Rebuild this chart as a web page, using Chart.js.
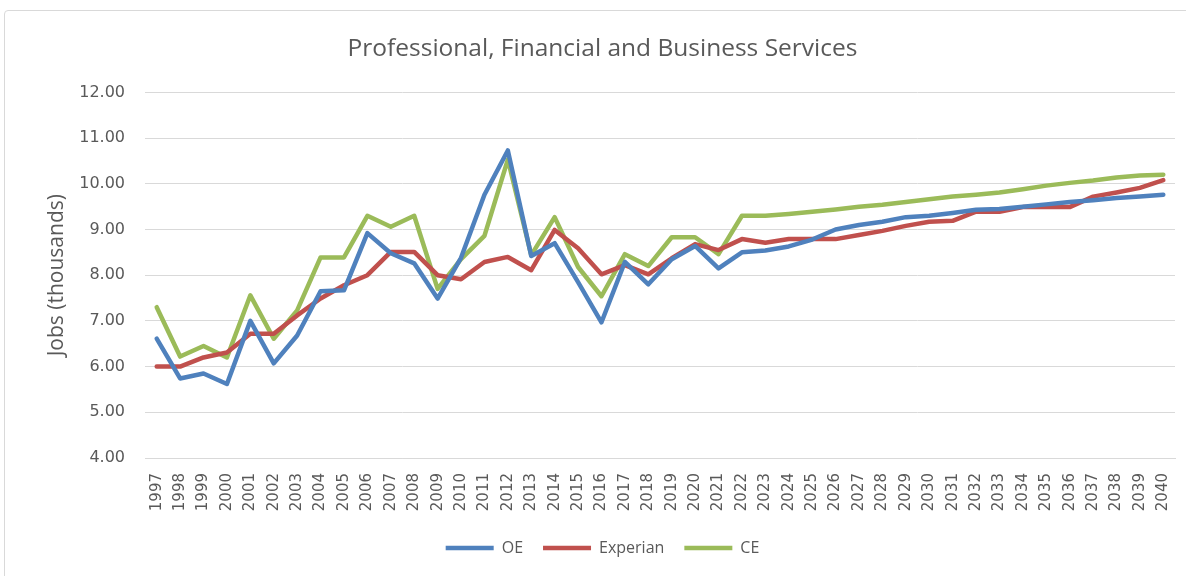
<!DOCTYPE html>
<html>
<head>
<meta charset="utf-8">
<script src="https://cdn.jsdelivr.net/npm/chart.js@4"></script>
<style>
  body { margin: 0; background: #ffffff; }
  .frame { position: absolute; left: 4px; top: 10px; width: 1200px; height: 600px; border: 1px solid #d9d9d9; border-radius: 4px; }
  .wrap { position: absolute; left: 0; top: 0; width: 1186px; height: 576px; }
</style>
</head>
<body>
<div class="frame"></div>
<div class="wrap"><canvas id="myChart"></canvas></div>
<script>
var years = [];
for (var y = 1997; y <= 2040; y++) {
  years.push(String(y));
}

var oe = [6.61, 5.74, 5.85, 5.62, 7.00, 6.07, 6.68, 7.65, 7.67, 8.92,
  8.48, 8.26, 7.49, 8.38, 9.76, 10.73, 8.42, 8.70, 7.85, 6.97,
  8.29, 7.80, 8.35, 8.64, 8.15, 8.50, 8.54, 8.63, 8.78, 9.00,
  9.10, 9.17, 9.27, 9.30, 9.36, 9.43, 9.45, 9.50, 9.55, 9.60,
  9.64, 9.69, 9.72, 9.76];

var experian = [6.00, 6.00, 6.20, 6.31, 6.72, 6.72, 7.12, 7.49, 7.78, 8.00,
  8.51, 8.51, 8.00, 7.91, 8.29, 8.40, 8.11, 8.99, 8.59, 8.02,
  8.22, 8.02, 8.37, 8.68, 8.55, 8.79, 8.71, 8.79, 8.79, 8.79,
  8.88, 8.97, 9.08, 9.17, 9.19, 9.39, 9.39, 9.49, 9.50, 9.49,
  9.72, 9.81, 9.91, 10.08];

var ce = [7.30, 6.22, 6.45, 6.20, 7.56, 6.61, 7.23, 8.39, 8.39, 9.30,
  9.06, 9.30, 7.70, 8.35, 8.86, 10.53, 8.44, 9.27, 8.18, 7.54,
  8.46, 8.20, 8.83, 8.83, 8.46, 9.30, 9.30, 9.34, 9.39, 9.44,
  9.50, 9.54, 9.60, 9.66, 9.72, 9.76, 9.81, 9.88, 9.96, 10.02,
  10.07, 10.14, 10.18, 10.20];

var textColor = "#595959";
var gridColor = "#d9d9d9";

function series(label, values, color) {
  return {
    label: label,
    data: values,
    borderColor: color,
    backgroundColor: color,
    borderWidth: 4.5,
    borderJoinStyle: "round",
    borderCapStyle: "round",
    pointRadius: 0,
    tension: 0,
    fill: false,
  };
}

var ctx = document.getElementById("myChart").getContext("2d");

var myChart = new Chart(ctx, {
  type: "line",
  data: {
    labels: years,
    datasets: [
      series("OE", oe, "#4f81bd"),
      series("Experian", experian, "#c0504d"),
      series("CE", ce, "#9bbb59"),
    ],
  },
  options: {
    responsive: true,
    maintainAspectRatio: false,
    animation: false,
    layout: {
      padding: { left: 30, right: 11, top: 0, bottom: 10 },
    },
    plugins: {
      tooltip: { enabled: false },
      title: {
        display: true,
        text: "Professional, Financial and Business Services",
        color: textColor,
        font: { family: "'Open Sans'", size: 24.5, weight: "normal" },
        padding: { top: 34, bottom: 29 },
      },
      legend: {
        position: "bottom",
        labels: {
          usePointStyle: true,
          pointStyle: "line",
          pointStyleWidth: 48,
          color: textColor,
          font: { family: "'Open Sans'", size: 16 },
          padding: 20,
        },
      },
    },
    scales: {
      x: {
        offset: true,
        grid: { display: false, drawTicks: false },
        border: { display: true, color: gridColor, width: 1 },
        ticks: {
          color: textColor,
          font: { family: "'DejaVu Sans'", size: 15 },
          minRotation: 90,
          maxRotation: 90,
          autoSkip: false,
          padding: 15,
        },
        afterFit: function (scale) {
          // labels sit inside their category bands, no extra side room needed
          scale.height = 62;
          scale.paddingLeft = 0;
          scale.paddingRight = 0;
        },
      },
      y: {
        min: 4,
        max: 12,
        grid: { color: gridColor, drawTicks: false },
        border: { display: false },
        title: {
          display: true,
          text: "Jobs (thousands)",
          color: textColor,
          font: { family: "'Open Sans'", size: 21 },
          padding: { top: 14, bottom: 0 },
        },
        ticks: {
          stepSize: 1,
          color: textColor,
          font: { family: "'DejaVu Sans'", size: 16 },
          padding: 20,
          callback: function (value) {
            return value.toFixed(2);
          },
        },
        afterFit: function (scale) {
          scale.width = 115;
        },
      },
    },
  },
});
</script>
</body>
</html>
